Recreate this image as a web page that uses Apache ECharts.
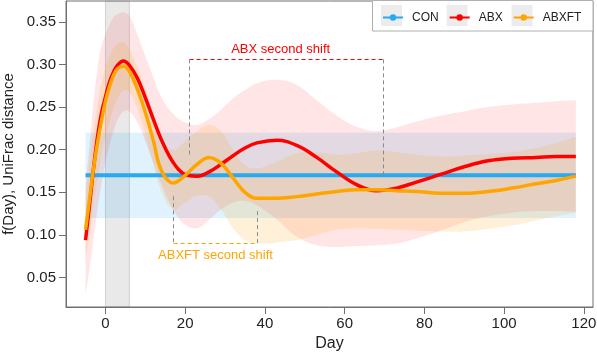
<!DOCTYPE html>
<html>
<head>
<meta charset="utf-8">
<script src="https://cdn.jsdelivr.net/npm/echarts@6/dist/echarts.min.js"></script>
<style>
  html, body { margin: 0; padding: 0; background: #fff; }
  #chart { width: 597px; height: 354px; }
</style>
</head>
<body>
<div id="chart"></div>
<script>
// sampling days shared by the ABX / ABXFT curves and their bands
const days = [-5, -4, -3, -2, -1, 0, 1, 2, 3, 4.5, 6, 8, 10, 12, 14, 17, 20, 23, 26, 29,
  32, 35, 38, 43, 48, 53, 58, 63, 68, 73, 78, 84, 90, 96, 102, 108, 113, 118];

const abx = [0.094, 0.135, 0.178, 0.215, 0.243, 0.262, 0.279, 0.291, 0.299, 0.304, 0.299, 0.284,
  0.261, 0.236, 0.212, 0.185, 0.171, 0.169, 0.174, 0.183, 0.193, 0.202, 0.208, 0.211, 0.205,
  0.191, 0.174, 0.159, 0.152, 0.155, 0.162, 0.171, 0.180, 0.187, 0.190, 0.191, 0.192, 0.192];
const abxLow = [0.030, 0.060, 0.095, 0.130, 0.160, 0.185, 0.205, 0.222, 0.235, 0.245, 0.245, 0.232,
  0.210, 0.185, 0.160, 0.130, 0.112, 0.108, 0.118, 0.130, 0.138, 0.140, 0.135, 0.118, 0.098,
  0.088, 0.086, 0.087, 0.088, 0.090, 0.096, 0.105, 0.115, 0.122, 0.126, 0.128, 0.128, 0.127];
const abxHigh = [0.155, 0.205, 0.255, 0.295, 0.322, 0.335, 0.347, 0.355, 0.359, 0.361, 0.357, 0.335,
  0.310, 0.285, 0.262, 0.242, 0.232, 0.229, 0.236, 0.247, 0.260, 0.270, 0.278, 0.282, 0.276,
  0.258, 0.240, 0.227, 0.222, 0.226, 0.233, 0.240, 0.245, 0.250, 0.253, 0.255, 0.257, 0.258];

const abxft = [0.106, 0.142, 0.178, 0.208, 0.234, 0.257, 0.274, 0.287, 0.295, 0.298, 0.292, 0.271,
  0.244, 0.211, 0.176, 0.161, 0.170, 0.183, 0.191, 0.184, 0.167, 0.150, 0.143, 0.143, 0.145,
  0.148, 0.151, 0.153, 0.153, 0.152, 0.151, 0.149, 0.149, 0.151, 0.155, 0.160, 0.164, 0.169];
const abxftLow = [0.070, 0.100, 0.135, 0.165, 0.193, 0.215, 0.233, 0.248, 0.260, 0.270, 0.268, 0.248,
  0.218, 0.183, 0.152, 0.130, 0.138, 0.146, 0.145, 0.130, 0.108, 0.094, 0.090, 0.091, 0.094,
  0.100, 0.106, 0.108, 0.107, 0.106, 0.105, 0.104, 0.104, 0.107, 0.111, 0.117, 0.122, 0.126];
const abxftHigh = [0.140, 0.183, 0.222, 0.253, 0.278, 0.297, 0.310, 0.319, 0.324, 0.326, 0.318, 0.297,
  0.270, 0.240, 0.212, 0.200, 0.210, 0.222, 0.229, 0.222, 0.200, 0.182, 0.178, 0.186, 0.196,
  0.197, 0.194, 0.196, 0.199, 0.197, 0.194, 0.192, 0.193, 0.195, 0.197, 0.202, 0.208, 0.215];

// CON: flat estimate with its band
const conDays = [-5, 118];
const con = [0.17, 0.17];
const conLow = 0.12;
const conHigh = 0.22;

// treatment window (grey)
const treatWindow = [0, 6];

const xTicks = [0, 20, 40, 60, 80, 100, 120];
const yTicks = [0.05, 0.10, 0.15, 0.20, 0.25, 0.30, 0.35];

// annotation brackets
const abxShift = { from: 21.1, to: 69.8, top: 0.306, leftEnd: 0.1935, rightEnd: 0.168 };
const abxftShift = { from: 17.1, to: 38.1, bottom: 0.0906, leftEnd: 0.1454, rightEnd: 0.128 };

const RED = '#ff0000';
const ORANGE = '#ffa500';
const BLUE = '#29a9f0';
const SMOOTH = 0.4;

const pairs = (xs, ys) => xs.map((x, i) => [x, ys[i]]);

// bezier path through pixel points, same control-point rule as the line series smoothing
function smoothPath(pts, moveFirst) {
  let d = moveFirst ? `M${pts[0][0]},${pts[0][1]}` : `L${pts[0][0]},${pts[0][1]}`;
  let cp0 = pts[0];
  for (let i = 1; i < pts.length; i++) {
    const p = pts[i];
    const prev = pts[i - 1];
    const next = i < pts.length - 1 ? pts[i + 1] : p;
    const vx = next[0] - prev[0], vy = next[1] - prev[1];
    const l0 = Math.hypot(p[0] - prev[0], p[1] - prev[1]);
    const l1 = Math.hypot(next[0] - p[0], next[1] - p[1]);
    const r = l0 + l1 > 0 ? l1 / (l0 + l1) : 0;
    const cp1 = [p[0] - vx * SMOOTH * (1 - r), p[1] - vy * SMOOTH * (1 - r)];
    d += `C${cp0[0]},${cp0[1]} ${cp1[0]},${cp1[1]} ${p[0]},${p[1]}`;
    cp0 = [p[0] + vx * SMOOTH * r, p[1] + vy * SMOOTH * r];
  }
  return d;
}

const band = (name, lo, hi, color) => ({
  name, type: 'custom', silent: true, z: 1, clip: true,
  data: [[days[0], lo[0]]],
  renderItem: (params, api) => {
    const upper = days.map((d, i) => api.coord([d, hi[i]]));
    const lower = days.map((d, i) => api.coord([d, lo[i]])).reverse();
    const path = smoothPath(upper, true) + smoothPath(lower, false) + 'Z';
    return { type: 'path', shape: { pathData: path }, style: { fill: color } };
  }
});

const dashGrey = { color: '#8a8a8a', type: [4, 3], width: 1 };

const chart = echarts.init(document.getElementById('chart'));

const option = {
  animation: false,
  backgroundColor: '#fff',
  grid: { left: 66, right: 4, top: 1, bottom: 47, containLabel: false, outerBoundsMode: 'none',
    show: true, borderColor: '#707070', borderWidth: 1, backgroundColor: 'transparent' },
  xAxis: {
    type: 'value', min: -9.9, max: 122.3,
    name: 'Day', nameLocation: 'middle', nameGap: 29,
    nameTextStyle: { fontSize: 16, color: '#222', fontFamily: 'Liberation Sans' },
    axisLine: { show: true, onZero: false, lineStyle: { color: '#707070' } },
    axisTick: { show: true, length: 7, customValues: xTicks, lineStyle: { color: '#707070' } },
    axisLabel: { customValues: xTicks, fontSize: 15, margin: 9, color: '#222', fontFamily: 'Liberation Sans' },
    splitLine: { show: false }
  },
  yAxis: {
    type: 'value', min: 0.0155, max: 0.3745,
    name: 'f(Day), UniFrac distance', nameLocation: 'middle', nameGap: 46,
    nameTextStyle: { fontSize: 15, color: '#222', fontFamily: 'Liberation Sans' },
    axisLine: { show: true, onZero: false, lineStyle: { color: '#707070' } },
    axisTick: { show: true, length: 7, customValues: yTicks, lineStyle: { color: '#707070' } },
    axisLabel: { customValues: yTicks, fontSize: 15, margin: 10, color: '#222', fontFamily: 'Liberation Sans',
      formatter: v => v.toFixed(2) },
    splitLine: { show: false }
  },
  legend: {
    data: ['CON', 'ABX', 'ABXFT'],
    left: 382, top: 11.5, padding: 0,
    itemWidth: 20, itemHeight: 8, itemGap: 10,
    textStyle: { fontSize: 12, color: '#222', fontFamily: 'Liberation Sans', padding: [0, 0, 0, 4] },
    z: 6
  },
  graphic: [
    { type: 'rect', z: 3, shape: { x: 372.5, y: 0.5, width: 220.5, height: 30.5 },
      style: { fill: '#fff', stroke: '#b0b0b0', lineWidth: 1 } },
    { type: 'rect', z: 4, shape: { x: 381, y: 5, width: 21, height: 21 }, style: { fill: '#ececec' } },
    { type: 'rect', z: 4, shape: { x: 446.5, y: 5, width: 21, height: 21 }, style: { fill: '#ececec' } },
    { type: 'rect', z: 4, shape: { x: 511.5, y: 5, width: 21, height: 21 }, style: { fill: '#ececec' } }
  ],
  series: [
    band('abxBand', abxLow, abxHigh, 'rgba(255,40,40,0.12)'),
    band('abxftBand', abxftLow, abxftHigh, 'rgba(255,160,0,0.15)'),
    {
      name: 'CON', type: 'line', data: pairs(conDays, con),
      symbol: 'circle', symbolSize: 6, showSymbol: false,
      itemStyle: { color: BLUE }, lineStyle: { color: BLUE, width: 4 }, z: 2,
      markArea: {
        silent: true,
        data: [
          [{ xAxis: treatWindow[0], itemStyle: { color: 'rgba(120,120,120,0.16)', borderColor: 'rgba(110,110,110,0.25)', borderWidth: 1 } },
           { xAxis: treatWindow[1] }],
          [{ coord: [conDays[0], conLow], itemStyle: { color: 'rgba(40,170,240,0.15)', borderWidth: 0 } },
           { coord: [conDays[1], conHigh] }]
        ]
      }
    },
    {
      name: 'ABX', type: 'line', data: pairs(days, abx), smooth: SMOOTH,
      symbol: 'circle', symbolSize: 6, showSymbol: false,
      itemStyle: { color: RED }, lineStyle: { color: RED, width: 3.5 }, z: 3,
      markLine: {
        silent: true, symbol: ['none', 'none'], animation: false,
        data: [
          [{ coord: [abxShift.from, abxShift.top], lineStyle: { color: RED, type: [4, 3], width: 1 },
             label: { show: true, formatter: 'ABX second shift', position: 'insideMiddleTop', distance: 3,
               color: RED, fontSize: 13, fontFamily: 'Liberation Sans', padding: [0, 12, 0, 0] } },
           { coord: [abxShift.to, abxShift.top] }],
          [{ coord: [abxShift.from, abxShift.top], lineStyle: dashGrey, label: { show: false } },
           { coord: [abxShift.from, abxShift.leftEnd] }],
          [{ coord: [abxShift.to, abxShift.top], lineStyle: dashGrey, label: { show: false } },
           { coord: [abxShift.to, abxShift.rightEnd] }]
        ]
      }
    },
    {
      name: 'ABXFT', type: 'line', data: pairs(days, abxft), smooth: SMOOTH,
      symbol: 'circle', symbolSize: 6, showSymbol: false,
      itemStyle: { color: ORANGE }, lineStyle: { color: ORANGE, width: 3.5 }, z: 4,
      markLine: {
        silent: true, symbol: ['none', 'none'], animation: false,
        data: [
          [{ coord: [abxftShift.from, abxftShift.bottom], lineStyle: { color: ORANGE, type: [4, 3], width: 1 },
             label: { show: true, formatter: 'ABXFT second shift', position: 'insideMiddleBottom', distance: 6,
               color: ORANGE, fontSize: 13, fontFamily: 'Liberation Sans' } },
           { coord: [abxftShift.to, abxftShift.bottom] }],
          [{ coord: [abxftShift.from, abxftShift.leftEnd], lineStyle: dashGrey, label: { show: false } },
           { coord: [abxftShift.from, abxftShift.bottom] }],
          [{ coord: [abxftShift.to, abxftShift.rightEnd], lineStyle: dashGrey, label: { show: false } },
           { coord: [abxftShift.to, abxftShift.bottom] }]
        ]
      }
    }
  ]
};

chart.setOption(option);
</script>
</body>
</html>
